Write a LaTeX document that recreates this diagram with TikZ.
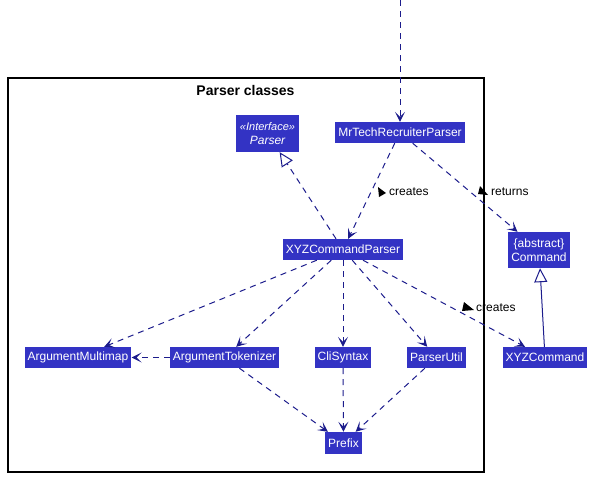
\documentclass[tikz,border=0pt]{standalone}
\usepackage{fontspec}
\setmainfont{Liberation Sans}
\usetikzlibrary{arrows.meta}

\definecolor{clsfill}{RGB}{51,51,196}
\definecolor{linecol}{RGB}{28,28,140}

\tikzset{
  cls/.style={rectangle,fill=clsfill,text=white,font=\fontsize{12}{13.5}\selectfont,
    inner xsep=3pt,inner ysep=2pt,minimum height=21pt,align=center},
  dep/.style={draw=linecol,line width=1pt,dash pattern=on 6pt off 5pt,
    -{Stealth[length=10pt,width=10pt,inset=5pt,linecol,line width=1pt]}},
  inherit/.style={draw=linecol,line width=1pt,-{Triangle[open,length=14pt,width=13pt,fill=white]}},
  realize/.style={draw=linecol,line width=1pt,dash pattern=on 6pt off 5pt,
    -{Triangle[open,length=14pt,width=13pt,fill=white]}},
  lbl/.style={font=\fontsize{12}{13}\selectfont,inner sep=0pt,anchor=west}
}

\begin{document}
\begin{tikzpicture}[x=1pt,y=-1pt]
\useasboundingbox (0,0) rectangle (595,477);
% package frame
\draw[line width=1.5pt] (8,78) rectangle (484,472);
\node[font=\bfseries\fontsize{14}{16}\selectfont] (title) at (245.5,90) {Parser classes};

% classes
\node[cls,font=\itshape\fontsize{12}{14.5}\selectfont,minimum width=63pt,minimum height=37pt] (parser) at (267.5,133.5) {\fontsize{11}{13}\selectfont«Interface»\\Parser};
\node[cls] (mrtech) at (400,132.5) {MrTechRecruiterParser};
\node[cls] (xyzparser) at (343,249.5) {XYZCommandParser};
\node[cls,minimum height=36pt] (command) at (539,250) {\{abstract\}\\Command};
\node[cls] (argmap) at (78,357.5) {ArgumentMultimap};
\node[cls] (argtok) at (224.5,357.5) {ArgumentTokenizer};
\node[cls] (clisyntax) at (343,357.5) {CliSyntax};
\node[cls] (parserutil) at (436.5,357.5) {ParserUtil};
\node[cls] (xyzcommand) at (545,357.5) {XYZCommand};
\node[cls,minimum height=22pt] (prefix) at (343.5,443) {Prefix};

% incoming call
\coordinate (entry) at (400,0);
\draw[dep] (entry) -- (mrtech);

% connectors
\draw[realize] (xyzparser) -- (parser);
\draw[dep] (mrtech) -- (xyzparser);
\draw[dep] (mrtech) -- (command);
\draw[dep] (xyzparser) -- (argmap);
\draw[dep] (xyzparser) -- (argtok);
\draw[dep] (xyzparser) -- (clisyntax);
\draw[dep] (xyzparser) -- (parserutil);
\draw[dep] (xyzparser) -- (xyzcommand);
\draw[dep] (argtok) -- (argmap);
\draw[dep] (argtok) -- (prefix);
\draw[dep] (clisyntax) -- (prefix);
\draw[dep] (parserutil) -- (prefix);
\draw[inherit] (xyzcommand) -- (command);

% labels with direction marks
\fill (378,187) -- (386,193) -- (379,197) -- cycle;
\node[lbl] (creates1) at (389,192) {creates};
\fill (480,186) -- (488,195) -- (478,194) -- cycle;
\node[lbl] (returns) at (491,192) {returns};
\fill (464,302) -- (474,310) -- (462,311) -- cycle;
\node[lbl] (creates2) at (476,308) {creates};
\end{tikzpicture}
\end{document}
